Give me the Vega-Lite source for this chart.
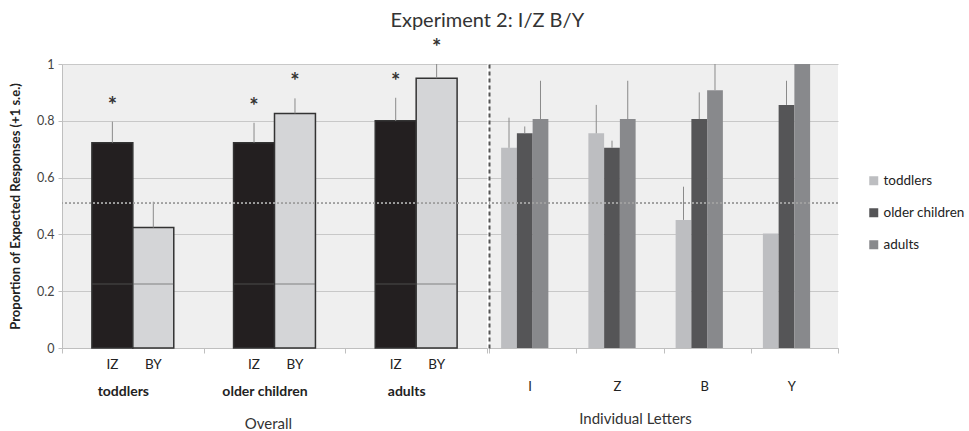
{
  "$schema": "https://vega.github.io/schema/vega-lite/v6.json",
  "title": {"text": "Experiment 2: I/Z B/Y", "fontSize": 20, "font": "Lato", "fontWeight": "normal", "color": "#333", "anchor": "middle", "offset": 6},
  "padding": {"left": 9, "top": 11, "right": 5, "bottom": 0},
  "datasets": {
    "overall": [
      {"group": "toddlers", "cond": "IZ", "value": 0.723, "err": 0.797, "sig": "*"},
      {"group": "toddlers", "cond": "BY", "value": 0.424, "err": 0.515, "sig": ""},
      {"group": "older children", "cond": "IZ", "value": 0.723, "err": 0.793, "sig": "*"},
      {"group": "older children", "cond": "BY", "value": 0.826, "err": 0.879, "sig": "*"},
      {"group": "adults", "cond": "IZ", "value": 0.8, "err": 0.881, "sig": "*"},
      {"group": "adults", "cond": "BY", "value": 0.95, "err": 1.0, "sig": "*"}
    ],
    "letters": [
      {"letter": "I", "series": "toddlers", "value": 0.705, "err": 0.811},
      {"letter": "I", "series": "older children", "value": 0.756, "err": 0.78},
      {"letter": "I", "series": "adults", "value": 0.806, "err": 0.941},
      {"letter": "Z", "series": "toddlers", "value": 0.756, "err": 0.856},
      {"letter": "Z", "series": "older children", "value": 0.705, "err": 0.73},
      {"letter": "Z", "series": "adults", "value": 0.806, "err": 0.941},
      {"letter": "B", "series": "toddlers", "value": 0.451, "err": 0.568},
      {"letter": "B", "series": "older children", "value": 0.806, "err": 0.9},
      {"letter": "B", "series": "adults", "value": 0.908, "err": 1.0},
      {"letter": "Y", "series": "toddlers", "value": 0.403, "err": null},
      {"letter": "Y", "series": "older children", "value": 0.856, "err": 0.941},
      {"letter": "Y", "series": "adults", "value": 1.0, "err": null}
    ]
  },
  "spacing": 0,
  "hconcat": [
    {
      "width": 425,
      "height": 284,
      "data": {"name": "overall"},
      "layer": [
        {
          "mark": {"type": "bar", "stroke": "#333", "strokeWidth": 1.5},
          "encoding": {
            "x": {"field": "group", "type": "nominal", "sort": ["toddlers", "older children", "adults"], "scale": {"paddingInner": 0, "paddingOuter": 0},
              "axis": {"title": "Overall", "labelFontWeight": "bold", "labelFontSize": 14, "labelPadding": 31, "labelAngle": 0, "tickBand": "extent", "tickSize": 5, "labelOffset": -10, "titleFontSize": 15, "titleFontWeight": "normal", "titlePadding": 18, "titleX": 206, "domainColor": "#bfbfbf", "tickColor": "#bfbfbf", "labelColor": "#222", "titleColor": "#333"}},
            "xOffset": {"field": "cond", "type": "nominal", "sort": ["IZ", "BY"], "scale": {"paddingInner": 0, "paddingOuter": 0.73}},
            "y": {"field": "value", "type": "quantitative", "scale": {"domain": [0, 1]},
              "axis": {"title": "Proportion of Expected Responses (+1 s.e.)", "values": [0, 0.2, 0.4, 0.6, 0.8, 1], "format": "~g", "grid": true, "gridColor": "#c8c8c8", "domainColor": "#bfbfbf", "tickColor": "#bfbfbf", "tickSize": 4, "labelFontSize": 12.5, "labelPadding": 4, "titleFontSize": 13, "titleFontWeight": "bold", "titlePadding": 14, "labelColor": "#444", "titleColor": "#222"}},
            "fill": {"field": "cond", "type": "nominal", "scale": {"domain": ["IZ", "BY"], "range": ["#231f20", "#d4d5d7"]}, "legend": null}
          }
        },
        {
          "mark": {"type": "tick", "color": "#5e5e5e", "thickness": 1, "size": 40},
          "encoding": {
            "x": {"field": "group", "type": "nominal", "sort": ["toddlers", "older children", "adults"]},
            "xOffset": {"field": "cond", "type": "nominal", "sort": ["IZ", "BY"]},
            "y": {"datum": 0.225}
          }
        },
        {
          "mark": {"type": "rule", "color": "#8a8a8a", "strokeWidth": 1},
          "encoding": {
            "x": {"field": "group", "type": "nominal", "sort": ["toddlers", "older children", "adults"]},
            "xOffset": {"field": "cond", "type": "nominal", "sort": ["IZ", "BY"]},
            "y": {"field": "value", "type": "quantitative"},
            "y2": {"field": "err"}
          }
        },
        {
          "mark": {"type": "rule", "color": "#a0a0a0", "strokeDash": [2, 2], "strokeWidth": 1},
          "encoding": {"y": {"datum": 0.51}}
        },
        {
          "transform": [{"filter": "datum.sig == '*'"}],
          "mark": {"type": "text", "fontSize": 22, "fontWeight": "bold", "color": "#333", "dy": -16, "baseline": "middle"},
          "encoding": {
            "x": {"field": "group", "type": "nominal", "sort": ["toddlers", "older children", "adults"]},
            "xOffset": {"field": "cond", "type": "nominal", "sort": ["IZ", "BY"]},
            "y": {"field": "err", "type": "quantitative"},
            "text": {"field": "sig"}
          }
        },
        {
          "mark": {"type": "text", "fontSize": 13.5, "dy": 17, "baseline": "middle", "color": "#222"},
          "encoding": {
            "x": {"field": "group", "type": "nominal", "sort": ["toddlers", "older children", "adults"]},
            "xOffset": {"field": "cond", "type": "nominal", "sort": ["IZ", "BY"]},
            "y": {"datum": 0},
            "text": {"field": "cond"}
          }
        }
      ]
    },
    {
      "width": 349,
      "height": 284,
      "data": {"name": "letters"},
      "layer": [
        {
          "mark": {"type": "bar"},
          "encoding": {
            "x": {"field": "letter", "type": "nominal", "sort": ["I", "Z", "B", "Y"], "scale": {"paddingInner": 0, "paddingOuter": 0},
              "axis": {"title": "Individual Letters", "labelFontSize": 13, "labelPadding": 27, "labelAngle": 0, "tickBand": "extent", "tickSize": 5, "labelOffset": -3, "titleFontSize": 15, "titleFontWeight": "normal", "titlePadding": 18, "titleX": 146, "domainColor": "#bfbfbf", "tickColor": "#bfbfbf", "labelColor": "#222", "titleColor": "#333"}},
            "xOffset": {"field": "series", "type": "nominal", "scale": {"domain": ["toddlers", "older children", "adults", "_"], "paddingInner": 0, "paddingOuter": 0.77}},
            "y": {"field": "value", "type": "quantitative", "scale": {"domain": [0, 1]},
              "axis": {"title": null, "labels": false, "ticks": false, "values": [0, 0.2, 0.4, 0.6, 0.8, 1], "grid": true, "gridColor": "#c8c8c8", "domain": true, "domainDash": [4, 3], "domainColor": "#555", "domainWidth": 2}},
            "color": {"field": "series", "type": "nominal", "scale": {"domain": ["toddlers", "older children", "adults"], "range": ["#bdbec1", "#555557", "#88898c"]},
              "legend": {"title": null, "orient": "none", "legendX": 378, "legendY": 110, "symbolType": "square", "symbolSize": 81, "labelFontSize": 13.5, "rowPadding": 17, "labelColor": "#222", "symbolStrokeWidth": 0, "labelOffset": 3}}
          }
        },
        {
          "transform": [{"filter": "datum.err != null"}],
          "mark": {"type": "rule", "color": "#8a8a8a", "strokeWidth": 1},
          "encoding": {
            "x": {"field": "letter", "type": "nominal", "sort": ["I", "Z", "B", "Y"]},
            "xOffset": {"field": "series", "type": "nominal"},
            "y": {"field": "value", "type": "quantitative"},
            "y2": {"field": "err"}
          }
        },
        {
          "mark": {"type": "rule", "color": "#a0a0a0", "strokeDash": [2, 2], "strokeWidth": 1},
          "encoding": {"y": {"datum": 0.51}}
        }
      ]
    }
  ],
  "resolve": {"scale": {"x": "independent", "xOffset": "independent", "color": "independent", "fill": "independent", "y": "shared"}},
  "config": {
    "font": "Lato",
    "view": {"fill": "#efefef", "stroke": null},
    "axis": {"labelFont": "Lato", "titleFont": "Lato"},
    "legend": {"labelFont": "Lato"}
  }
}
